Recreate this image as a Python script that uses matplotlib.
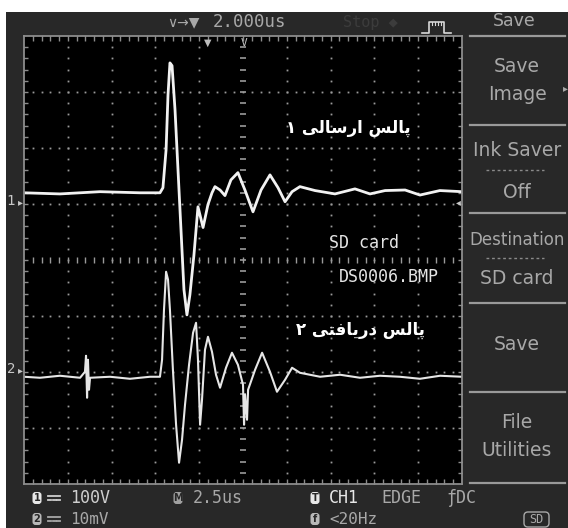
import matplotlib
matplotlib.use("Agg")
import matplotlib.pyplot as plt
from matplotlib.patches import Rectangle, FancyBboxPatch

# ---------------- data ----------------
time_per_div_us = 2.5
ch1_volts_per_div = 100
ch2_mv_per_div = 10
ch1_offset_div = 1.04
ch2_offset_div = -1.96

ch1_time_us = [0.0, 2.05, 4.34, 6.62, 7.76, 7.93, 8.11, 8.22, 8.33, 8.45, 8.62, 8.79,
               8.96, 9.13, 9.30, 9.47, 9.70, 9.93, 10.22, 10.50, 10.73, 10.90, 11.19,
               11.47, 11.81, 12.21, 12.61, 13.07, 13.53, 14.04, 14.50, 14.90, 15.30,
               15.75, 16.61, 17.75, 18.89, 19.75, 20.61, 21.75, 22.60, 23.74, 25.0]
ch1_volts = [16, 14, 18, 16, 16, 25, 93, 191, 248, 243, 164, 57,
             -50, -157, -202, -166, -95, -9, -46, -5, 16, 27, 21,
             11, 39, 52, 21, -18, 21, 48, 25, 0, 18,
             27, 20, 14, 23, 14, 20, 21, 12, 20, 18]

ch2_time_us = [0.0, 0.91, 2.05, 3.20, 3.48, 3.54, 3.60, 3.65, 3.71, 3.77, 4.91, 6.05,
               7.19, 7.76, 7.88, 7.99, 8.11, 8.22, 8.33, 8.50, 8.68, 8.85, 9.02, 9.19,
               9.42, 9.65, 9.82, 9.93, 10.05, 10.16, 10.33, 10.50, 10.73, 10.96, 11.19,
               11.53, 11.87, 12.21, 12.50, 12.56, 12.62, 12.73, 12.79, 13.19, 13.59,
               14.04, 14.44, 14.90, 15.30, 15.75, 16.90, 18.04, 19.18, 20.32, 21.46,
               22.60, 23.75, 25.0]
ch2_millivolts = [-1.25, -1.43, -1.07, -1.43, -0.36, 2.50, -5.00, 1.79, -3.57, -1.43, -1.25, -1.61,
                  -1.25, -1.25, 1.79, 10.7, 17.5, 16.1, 10.7, 0.0, -9.82, -16.6, -12.5, -6.25,
                  0.89, 6.61, 8.39, 1.79, -9.82, -5.36, 3.57, 5.89, 3.21, -0.89, -3.21,
                  0.36, 3.04, 0.89, -2.68, -9.82, -4.46, -8.93, -3.57, 0.0, 3.04,
                  -0.36, -3.93, -1.79, 0.36, -0.54, -1.25, -0.89, -1.43, -1.07, -1.25,
                  -1.61, -1.07, -1.25]

menu_title = "Save"
menu_items = [["Save", "Image"], ["Ink Saver", "Off"], ["Destination", "SD card"],
              ["Save"], ["File", "Utilities"]]
top_timebase = "2.000us"
status_row1 = ["100V", "2.5us", "CH1", "EDGE", "DC"]
status_row2 = ["10mV", "<20Hz"]
label_tx = "پالس ارسالی ۱"
label_rx = "پالس دریافتی ۲"
# Visual-order Arabic presentation forms (matplotlib does no Arabic shaping)
label_tx_visual = "\u06F1 \uFBFD\uFEDF\uFE8E\uFEB3\uFEAD\uFE8D \uFEB2\uFEDF\uFE8E\uFB58"
label_rx_visual = "\u06F2 \uFBFD\uFE98\uFED3\uFE8E\uFBFE\uFEAD\uFEA9 \uFEB2\uFEDF\uFE8E\uFB58"
file_lines = ["SD card", "DS0006.BMP"]

# ---------------- figure ----------------
W, H = 568, 528
fig = plt.figure(figsize=(W / 100, H / 100), dpi=100)
fig.patch.set_facecolor("white")

bg = fig.add_axes([0, 0, 1, 1])
bg.set_xlim(0, W); bg.set_ylim(H, 0); bg.axis("off")
bg.add_patch(Rectangle((6, 12), W - 6, H - 12, color="#282828", lw=0))

# scope screen: x 24..462 px, y 36..484 px
L, R, T, B = 24, 462, 36, 484
ax = fig.add_axes([L / W, (H - B) / H, (R - L) / W, (B - T) / H])
ax.set_facecolor("black")
ax.set_xlim(0, 10 * time_per_div_us)
ax.set_ylim(-4, 4)
ax.set_xticks([]); ax.set_yticks([])
for s in ax.spines.values():
    s.set_color("#8c8c8c"); s.set_linewidth(1.3)

dot = dict(ls="none", marker="s", ms=1.3, color="#9a9a9a", mew=0)
xmax = 10 * time_per_div_us
for k in range(1, 10):
    if k == 5:
        continue
    xs = [k * time_per_div_us] * 39
    ys = [-4 + 0.2 * j for j in range(1, 40)]
    ax.plot(xs, ys, **dot)
for k in range(-3, 4):
    if k == 0:
        continue
    xs = [0.5 * j for j in range(1, 50)]
    ax.plot(xs, [k] * len(xs), **dot)
ys = [-4 + 0.2 * j for j in range(1, 40)]
ax.plot([xmax / 2] * len(ys), ys, ls="none", marker="_", ms=5, mew=1.2, color="#9a9a9a")
xs = [0.5 * j for j in range(1, 50)]
ax.plot(xs, [0] * len(xs), ls="none", marker="|", ms=5, mew=1.0, color="#9a9a9a")
ax.plot(xs, [3.97] * len(xs), ls="none", marker="|", ms=4, mew=1.0, color="#8c8c8c")
ax.plot(xs, [-3.97] * len(xs), ls="none", marker="|", ms=4, mew=1.0, color="#8c8c8c")
ax.plot([0.08] * len(ys), ys, ls="none", marker="_", ms=4, mew=1.0, color="#8c8c8c")
ax.plot([xmax - 0.08] * len(ys), ys, ls="none", marker="_", ms=4, mew=1.0, color="#8c8c8c")

# traces
ch1_div = [v / ch1_volts_per_div + ch1_offset_div for v in ch1_volts]
ch2_div = [v / ch2_mv_per_div + ch2_offset_div for v in ch2_millivolts]
ax.plot(ch1_time_us, ch1_div, color="#f2f2f2", lw=2.0, solid_joinstyle="round")
ax.plot(ch2_time_us, ch2_div, color="#e6e6e6", lw=1.5, solid_joinstyle="round")

# ---------------- overlay (pixel coords) ----------------
ov = fig.add_axes([0, 0, 1, 1])
ov.set_xlim(0, W); ov.set_ylim(H, 0); ov.axis("off")
ov.patch.set_alpha(0)

mono = "DejaVu Sans Mono"
sans = "DejaVu Sans"
txt = "#cfcfcf"
dim = "#a8a8a8"

# top bar
ov.text(183, 22, "\u2228\u2192\u25BC", color=dim, fontsize=10, ha="center", va="center", family=sans)
ov.text(249, 22, top_timebase, color=dim, fontsize=12.5, ha="center", va="center", family=mono)
ov.text(370, 22, "Stop \u25C6", color="#3c3c3c", fontsize=11, ha="center", va="center", family=mono)
ov.plot([422, 429, 429, 444, 444, 451], [33, 33, 22, 22, 33, 33], color="#d8d8d8", lw=1.2)
for xx in [432, 435, 438, 441]:
    ov.plot([xx, xx], [22, 25], color="#d8d8d8", lw=0.8)

# markers on the screen
ov.text(208, 43, "\u25BC", color="#bdbdbd", fontsize=7, ha="center", va="center")
ov.text(244, 43, "V", color="#bdbdbd", fontsize=8, ha="center", va="center", family=mono)
ov.text(11, 201, "1", color="#c8c8c8", fontsize=10, ha="center", va="center", family=mono)
ov.text(20, 202, "\u25B8", color="#c8c8c8", fontsize=7, ha="center", va="center")
ov.text(11, 369, "2", color="#c8c8c8", fontsize=10, ha="center", va="center", family=mono)
ov.text(20, 370, "\u25B8", color="#c8c8c8", fontsize=7, ha="center", va="center")
ov.text(458, 202, "\u25C2", color="#c8c8c8", fontsize=7, ha="center", va="center")

# texts inside the screen
ov.text(348, 128, label_tx_visual, color="white", fontsize=12, fontweight="bold",
        ha="center", va="center", family=sans)
ov.text(361, 330, label_rx_visual, color="white", fontsize=12, fontweight="bold",
        ha="center", va="center", family=sans)
ov.text(364, 243, file_lines[0], color="#e4e4e4", fontsize=12, ha="center", va="center", family=mono)
ov.text(389, 277, file_lines[1], color="#e4e4e4", fontsize=12, ha="center", va="center", family=mono)

# right menu
for yy in [36, 125, 213, 303, 392, 483]:
    ov.plot([470, 565], [yy, yy], color="#9a9a9a", lw=1.6)
ov.text(514, 21, menu_title, color=dim, fontsize=12.5, ha="center", va="center", family=sans)
menu_pos = [[67, 95], [150, 192], [240, 278], [345], [422, 450]]
for lines, ys_ in zip(menu_items, menu_pos):
    for t_, yy in zip(lines, ys_):
        fs = 12 if len(t_) > 9 else 13.5
        ov.text(517, yy, t_, color=dim, fontsize=fs, ha="center", va="center", family=sans)
for yy in [170, 258]:
    ov.plot([486, 544], [yy, yy], color="#8a8a8a", lw=1.0, ls=(0, (2, 2)))
ov.text(565, 88, "\u25B8", color=dim, fontsize=7, ha="center", va="center")

# status bar
def icon(x, y, ch, face):
    ov.add_patch(FancyBboxPatch((x - 4.5, y - 6), 9, 12, boxstyle="round,pad=0,rounding_size=3",
                                fc=face, ec="none"))
    ov.text(x, y, ch, color="#282828", fontsize=7, ha="center", va="center",
            family=sans, fontweight="bold")

def dc_symbol(x, y, color):
    # the "DC" coupling sign (solid bar over dashed bar); no installed font has it
    ov.plot([x - 6, x + 6], [y - 2, y - 2], color=color, lw=1.3)
    for dx in (-6, -1.5, 3):
        ov.plot([x + dx, x + dx + 3], [y + 2, y + 2], color=color, lw=1.3)

y1, y2 = 498, 519
icon(37, y1, "1", "#e8e8e8")
dc_symbol(54, y1, txt)
ov.text(70, y1, status_row1[0], color=txt, fontsize=12, ha="left", va="center", family=mono)
icon(178, y1, "M", "#a0a0a0")
ov.text(193, y1, status_row1[1], color=dim, fontsize=12, ha="left", va="center", family=mono)
icon(315, y1, "T", "#e8e8e8")
ov.text(329, y1, status_row1[2], color="#e8e8e8", fontsize=12, ha="left", va="center", family=mono)
ov.text(381, y1, status_row1[3], color=dim, fontsize=12, ha="left", va="center", family=mono)
ov.text(446, y1, "\u0192" + status_row1[4], color=dim, fontsize=12, ha="left", va="center", family=mono)

icon(37, y2, "2", "#b8b8b8")
dc_symbol(54, y2, dim)
ov.text(70, y2, status_row2[0], color=dim, fontsize=11.5, ha="left", va="center", family=mono)
icon(315, y2, "f", "#b8b8b8")
ov.text(329, y2, status_row2[1], color=dim, fontsize=11.5, ha="left", va="center", family=mono)
ov.add_patch(FancyBboxPatch((524, 512), 25, 15, boxstyle="round,pad=0,rounding_size=4",
                            fc="none", ec=dim, lw=1.0))
ov.text(536.5, 519.5, "SD", color=dim, fontsize=8.5, ha="center", va="center", family=mono)

fig.savefig("out.png", dpi=100, facecolor=fig.get_facecolor())
